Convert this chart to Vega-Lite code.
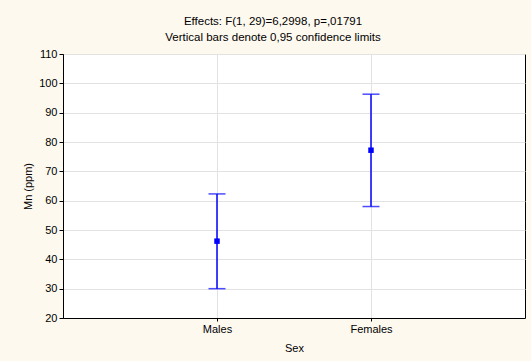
{
  "$schema": "https://vega.github.io/schema/vega-lite/v6.json",
  "autosize": "none",
  "width": 462,
  "height": 264,
  "padding": {"left": 63, "top": 54, "right": 6, "bottom": 43},
  "background": "#FEF9EF",
  "title": {
    "text": ["Effects: F(1, 29)=6,2998, p=,01791", "Vertical bars denote 0,95 confidence limits"],
    "font": "Liberation Sans",
    "fontSize": 11.5,
    "fontWeight": "normal",
    "color": "#000000",
    "anchor": "middle",
    "frame": "group",
    "dx": -21,
    "offset": 5,
    "lineHeight": 16
  },
  "config": {
    "view": {"fill": "#FFFFFF", "stroke": "#000000", "strokeWidth": 1},
    "axis": {
      "labelFont": "Liberation Sans",
      "labelFontSize": 11,
      "labelColor": "#000000",
      "titleFont": "Liberation Sans",
      "titleFontSize": 11,
      "titleFontWeight": "normal",
      "titleColor": "#000000",
      "domainColor": "#000000",
      "tickColor": "#000000",
      "gridColor": "#E2E2E2",
      "gridWidth": 1
    }
  },
  "data": {
    "values": [
      {"Sex": "Males", "mean": 46.2, "lo": 30.0, "hi": 62.3},
      {"Sex": "Females", "mean": 77.2, "lo": 58.0, "hi": 96.3}
    ]
  },
  "encoding": {
    "x": {
      "field": "Sex",
      "type": "nominal",
      "scale": {"type": "point", "padding": 1, "domain": ["Males", "Females"]},
      "axis": {"title": "Sex", "labelAngle": 0, "labelPadding": 2, "tickSize": 3, "titlePadding": 8, "grid": true}
    }
  },
  "layer": [
    {
      "mark": {"type": "rule", "color": "#0000FF", "strokeWidth": 1.5},
      "encoding": {
        "y": {
          "field": "lo",
          "type": "quantitative",
          "scale": {"domain": [20, 110], "nice": false, "zero": false},
          "axis": {"title": "Mn (ppm)", "values": [20, 30, 40, 50, 60, 70, 80, 90, 100, 110], "tickSize": 4, "labelPadding": 2, "titlePadding": 5, "grid": true}
        },
        "y2": {"field": "hi"}
      }
    },
    {
      "mark": {"type": "tick", "color": "#0000FF", "size": 17, "thickness": 1.5, "orient": "horizontal"},
      "encoding": {
        "y": {
          "field": "lo",
          "type": "quantitative",
          "scale": {"domain": [20, 110], "nice": false, "zero": false},
          "axis": {"title": "Mn (ppm)", "values": [20, 30, 40, 50, 60, 70, 80, 90, 100, 110], "tickSize": 4, "labelPadding": 2, "titlePadding": 5, "grid": true}
        }
      }
    },
    {
      "mark": {"type": "tick", "color": "#0000FF", "size": 17, "thickness": 1.5, "orient": "horizontal"},
      "encoding": {
        "y": {
          "field": "hi",
          "type": "quantitative",
          "scale": {"domain": [20, 110], "nice": false, "zero": false},
          "axis": {"title": "Mn (ppm)", "values": [20, 30, 40, 50, 60, 70, 80, 90, 100, 110], "tickSize": 4, "labelPadding": 2, "titlePadding": 5, "grid": true}
        }
      }
    },
    {
      "mark": {"type": "square", "color": "#0000FF", "filled": true, "opacity": 1, "size": 30},
      "encoding": {
        "y": {
          "field": "mean",
          "type": "quantitative",
          "scale": {"domain": [20, 110], "nice": false, "zero": false},
          "axis": {"title": "Mn (ppm)", "values": [20, 30, 40, 50, 60, 70, 80, 90, 100, 110], "tickSize": 4, "labelPadding": 2, "titlePadding": 5, "grid": true}
        }
      }
    }
  ]
}
